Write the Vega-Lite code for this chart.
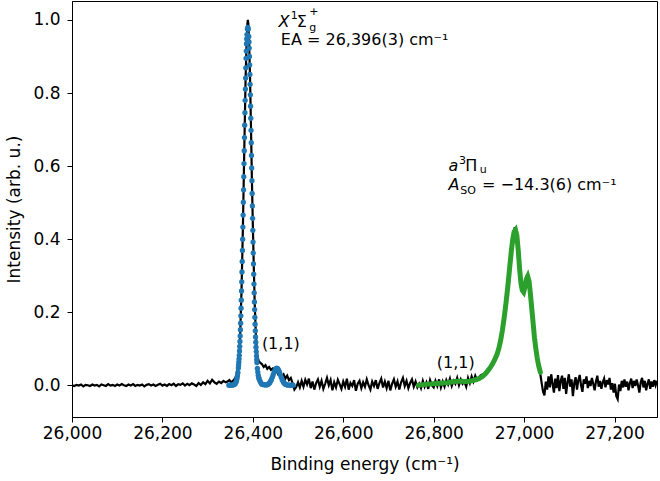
{
  "$schema": "https://vega.github.io/schema/vega-lite/v6.json",
  "width": 585,
  "height": 416,
  "autosize": "none",
  "padding": {"left": 72, "top": 1, "right": 3, "bottom": 64},
  "background": "white",
  "config": {
    "font": "DejaVu Sans",
    "view": {"stroke": "black", "strokeWidth": 1},
    "axis": {"grid": false, "domainColor": "black", "domainWidth": 1, "tickColor": "black", "tickWidth": 1, "tickSize": 5, "labelFont": "DejaVu Sans", "labelFontSize": 17, "labelColor": "black", "labelPadding": 3, "labelFlush": false, "labelOverlap": false, "titleFont": "DejaVu Sans", "titleFontSize": 17, "titleFontWeight": "normal", "titleColor": "black"},
    "text": {"font": "DejaVu Sans", "color": "black"}
  },
  "datasets": {
    "black": [
      {"x":26000,"y":0.000},{"x":26005,"y":-0.002},{"x":26010,"y":0.001},{"x":26015,"y":-0.001},{"x":26020,"y":0.002},{"x":26025,"y":-0.003},{"x":26030,"y":0.001},{"x":26035,"y":0.000},{"x":26040,"y":-0.002},{"x":26045,"y":0.002},{"x":26050,"y":-0.001},{"x":26055,"y":0.001},{"x":26060,"y":-0.003},{"x":26065,"y":0.002},{"x":26070,"y":0.000},{"x":26075,"y":-0.002},{"x":26080,"y":0.003},{"x":26085,"y":-0.001},{"x":26090,"y":0.001},{"x":26095,"y":-0.002},{"x":26100,"y":0.002},{"x":26105,"y":-0.001},{"x":26110,"y":0.003},{"x":26115,"y":0.000},{"x":26120,"y":-0.002},{"x":26125,"y":0.002},{"x":26130,"y":-0.001},{"x":26135,"y":0.003},{"x":26140,"y":-0.002},{"x":26145,"y":0.001},{"x":26150,"y":-0.001},{"x":26155,"y":0.002},{"x":26160,"y":-0.003},{"x":26165,"y":0.001},{"x":26170,"y":0.003},{"x":26175,"y":-0.001},{"x":26180,"y":0.002},{"x":26185,"y":-0.002},{"x":26190,"y":0.001},{"x":26195,"y":0.004},{"x":26200,"y":-0.001},{"x":26205,"y":0.002},{"x":26210,"y":-0.002},{"x":26215,"y":0.003},{"x":26220,"y":0.000},{"x":26225,"y":0.004},{"x":26230,"y":-0.002},{"x":26235,"y":0.003},{"x":26240,"y":0.001},{"x":26245,"y":0.005},{"x":26250,"y":-0.001},{"x":26255,"y":0.004},{"x":26260,"y":0.000},{"x":26265,"y":0.005},{"x":26270,"y":0.002},{"x":26275,"y":-0.002},{"x":26280,"y":0.006},{"x":26285,"y":0.001},{"x":26290,"y":0.008},{"x":26295,"y":0.003},{"x":26300,"y":0.012},{"x":26305,"y":0.005},{"x":26310,"y":0.015},{"x":26315,"y":0.008},{"x":26320,"y":0.004},{"x":26325,"y":0.010},{"x":26330,"y":0.006},{"x":26335,"y":0.012},{"x":26340,"y":0.008},{"x":26344,"y":0.010},{"x":26348,"y":0.014},
      {"x":26352,"y":0.008},{"x":26356,"y":0.012},{"x":26360,"y":0.018},{"x":26363,"y":0.025},{"x":26366,"y":0.04},{"x":26369,"y":0.07},{"x":26372,"y":0.14},{"x":26375,"y":0.26},{"x":26378,"y":0.43},{"x":26381,"y":0.64},{"x":26384,"y":0.84},{"x":26386,"y":0.93},{"x":26388,"y":0.99},{"x":26389,"y":1.0},{"x":26390,"y":0.99},{"x":26392,"y":0.93},{"x":26394,"y":0.83},{"x":26396,"y":0.70},{"x":26398,"y":0.56},{"x":26400,"y":0.44},{"x":26402,"y":0.33},{"x":26404,"y":0.23},{"x":26406,"y":0.16},{"x":26408,"y":0.11},{"x":26410,"y":0.08},
      {"x":26413,"y":0.066},{"x":26416,"y":0.062},{"x":26420,"y":0.058},{"x":26424,"y":0.05},{"x":26428,"y":0.055},{"x":26432,"y":0.045},{"x":26436,"y":0.05},{"x":26440,"y":0.042},{"x":26444,"y":0.046},{"x":26448,"y":0.035},{"x":26452,"y":0.04},{"x":26456,"y":0.03},{"x":26460,"y":0.034},{"x":26464,"y":0.024},{"x":26468,"y":0.03},{"x":26472,"y":0.018},{"x":26476,"y":0.026},{"x":26480,"y":0.014},{"x":26484,"y":0.02},{"x":26488,"y":0.005},{"x":26492,"y":-0.012},{"x":26496,"y":-0.005},
      {"x":26500,"y":0.008},{"x":26504,"y":-0.006},{"x":26508,"y":0.012},{"x":26512,"y":-0.004},{"x":26516,"y":0.015},{"x":26520,"y":0.002},{"x":26524,"y":0.018},{"x":26528,"y":-0.008},{"x":26532,"y":0.010},{"x":26536,"y":-0.012},{"x":26540,"y":0.006},{"x":26544,"y":0.016},{"x":26548,"y":-0.004},{"x":26552,"y":0.012},{"x":26556,"y":-0.010},{"x":26560,"y":0.004},{"x":26564,"y":0.020},{"x":26568,"y":0.000},{"x":26572,"y":0.014},{"x":26576,"y":-0.014},{"x":26580,"y":0.008},{"x":26584,"y":-0.006},{"x":26588,"y":0.015},{"x":26592,"y":0.003},{"x":26596,"y":-0.010},{"x":26600,"y":0.010},{"x":26604,"y":-0.004},{"x":26608,"y":0.018},{"x":26612,"y":-0.012},{"x":26616,"y":0.006},{"x":26620,"y":-0.002},{"x":26624,"y":0.014},{"x":26628,"y":-0.015},{"x":26632,"y":0.004},{"x":26636,"y":0.012},{"x":26640,"y":-0.008},{"x":26644,"y":0.008},{"x":26648,"y":-0.004},{"x":26652,"y":0.016},{"x":26656,"y":0.000},{"x":26660,"y":-0.012},{"x":26664,"y":0.010},{"x":26668,"y":-0.002},{"x":26672,"y":0.014},{"x":26676,"y":-0.010},{"x":26680,"y":0.006},{"x":26684,"y":0.018},{"x":26688,"y":-0.006},{"x":26692,"y":0.010},{"x":26696,"y":-0.008},{"x":26700,"y":0.012},{"x":26704,"y":-0.014},{"x":26708,"y":0.004},{"x":26712,"y":0.016},{"x":26716,"y":-0.004},{"x":26720,"y":0.010},{"x":26724,"y":-0.012},{"x":26728,"y":0.008},{"x":26732,"y":0.020},{"x":26736,"y":-0.002},{"x":26740,"y":0.012},{"x":26744,"y":-0.008},{"x":26748,"y":0.006},{"x":26752,"y":0.016},{"x":26756,"y":-0.004},{"x":26760,"y":0.010},{"x":26764,"y":-0.006},
      {"x":26768,"y":0.004},{"x":26772,"y":-0.008},{"x":26776,"y":0.012},{"x":26780,"y":-0.004},{"x":26784,"y":0.008},{"x":26788,"y":-0.010},{"x":26792,"y":0.014},{"x":26796,"y":0.000},{"x":26800,"y":-0.006},{"x":26804,"y":0.012},{"x":26808,"y":-0.002},{"x":26812,"y":0.016},{"x":26816,"y":-0.006},{"x":26820,"y":0.010},{"x":26824,"y":-0.004},{"x":26828,"y":0.014},{"x":26832,"y":0.002},{"x":26836,"y":0.018},{"x":26840,"y":-0.002},{"x":26844,"y":0.012},{"x":26848,"y":0.004},{"x":26852,"y":0.020},{"x":26856,"y":0.000},{"x":26860,"y":0.016},{"x":26864,"y":0.004},{"x":26868,"y":0.010},{"x":26872,"y":-0.004},{"x":26876,"y":0.020},{"x":26880,"y":0.006},{"x":26884,"y":0.024},{"x":26888,"y":0.010},{"x":26892,"y":0.026},{"x":26896,"y":0.014},{"x":26900,"y":0.022},{"x":26905,"y":0.028},{"x":26910,"y":0.030},{"x":26915,"y":0.036},{"x":26920,"y":0.040},{"x":26925,"y":0.048},{"x":26930,"y":0.056},{"x":26935,"y":0.068},{"x":26940,"y":0.080},
      {"x":26944,"y":0.098},{"x":26948,"y":0.12},{"x":26952,"y":0.15},{"x":26956,"y":0.185},{"x":26960,"y":0.22},{"x":26964,"y":0.265},{"x":26968,"y":0.32},{"x":26972,"y":0.37},{"x":26976,"y":0.41},{"x":26979,"y":0.43},{"x":26982,"y":0.43},{"x":26985,"y":0.39},{"x":26988,"y":0.34},{"x":26991,"y":0.30},{"x":26994,"y":0.27},{"x":26997,"y":0.255},{"x":27000,"y":0.26},{"x":27003,"y":0.285},{"x":27006,"y":0.30},{"x":27009,"y":0.30},{"x":27012,"y":0.275},{"x":27015,"y":0.235},{"x":27018,"y":0.195},{"x":27021,"y":0.155},{"x":27024,"y":0.12},{"x":27027,"y":0.09},{"x":27030,"y":0.065},{"x":27033,"y":0.045},{"x":27036,"y":0.03},{"x":27039,"y":0.005},{"x":27042,"y":-0.018},{"x":27045,"y":-0.028},
      {"x":27048,"y":0.010},{"x":27051,"y":-0.012},{"x":27054,"y":0.024},{"x":27057,"y":-0.006},{"x":27060,"y":0.030},{"x":27063,"y":0.004},{"x":27066,"y":-0.020},{"x":27069,"y":0.018},{"x":27072,"y":-0.008},{"x":27075,"y":0.028},{"x":27078,"y":-0.016},{"x":27081,"y":0.012},{"x":27084,"y":0.026},{"x":27087,"y":-0.010},{"x":27090,"y":0.020},{"x":27093,"y":-0.024},{"x":27096,"y":0.008},{"x":27099,"y":0.030},{"x":27102,"y":-0.004},{"x":27105,"y":0.016},{"x":27108,"y":-0.030},{"x":27111,"y":0.006},{"x":27114,"y":0.022},{"x":27117,"y":-0.012},{"x":27120,"y":0.014},{"x":27123,"y":0.028},{"x":27126,"y":0.000},{"x":27129,"y":-0.018},{"x":27132,"y":0.016},{"x":27135,"y":0.004},{"x":27138,"y":0.024},{"x":27141,"y":-0.008},{"x":27144,"y":0.012},{"x":27147,"y":-0.002},{"x":27150,"y":0.020},{"x":27153,"y":0.004},{"x":27156,"y":-0.014},{"x":27159,"y":0.010},{"x":27162,"y":0.026},{"x":27165,"y":-0.004},{"x":27168,"y":0.012},{"x":27171,"y":-0.010},{"x":27174,"y":0.008},{"x":27177,"y":0.018},{"x":27180,"y":-0.006},{"x":27183,"y":0.014},{"x":27186,"y":0.002},{"x":27189,"y":0.020},{"x":27192,"y":-0.012},{"x":27195,"y":0.006},{"x":27198,"y":-0.020},{"x":27201,"y":0.004},{"x":27204,"y":-0.030},{"x":27207,"y":-0.038},{"x":27210,"y":0.002},{"x":27213,"y":-0.016},{"x":27216,"y":0.012},{"x":27219,"y":-0.006},{"x":27222,"y":0.016},{"x":27225,"y":-0.004},{"x":27228,"y":0.010},{"x":27231,"y":-0.014},{"x":27234,"y":0.006},{"x":27237,"y":0.018},{"x":27240,"y":-0.008},{"x":27243,"y":0.012},{"x":27246,"y":-0.002},{"x":27249,"y":0.016},{"x":27252,"y":0.000},{"x":27255,"y":-0.020},{"x":27258,"y":0.008},{"x":27261,"y":0.020},{"x":27264,"y":-0.006},{"x":27267,"y":0.012},{"x":27270,"y":-0.014},{"x":27273,"y":0.004},{"x":27276,"y":0.016},{"x":27279,"y":-0.010},{"x":27282,"y":0.010},{"x":27285,"y":-0.004},{"x":27288,"y":0.014},{"x":27291,"y":0.000},{"x":27294,"y":0.012}
    ],
    "blue": [
      {"x":26347,"y":0.0},{"x":26350,"y":0.0},{"x":26353,"y":0.0001},{"x":26356,"y":0.0005},{"x":26359,"y":0.002},{"x":26361,"y":0.004},{"x":26363,"y":0.009},{"x":26364,"y":0.013},{"x":26365,"y":0.019},{"x":26366,"y":0.026},{"x":26367,"y":0.035},
      {"x":26368,"y":0.047},{"x":26368.5,"y":0.055},{"x":26369,"y":0.063},{"x":26369.5,"y":0.072},{"x":26370,"y":0.082},{"x":26370.5,"y":0.094},{"x":26371,"y":0.106},{"x":26371.5,"y":0.120},{"x":26372,"y":0.135},{"x":26372.5,"y":0.152},{"x":26373,"y":0.170},{"x":26373.5,"y":0.190},{"x":26374,"y":0.211},{"x":26374.5,"y":0.233},{"x":26375,"y":0.258},{"x":26375.5,"y":0.283},{"x":26376,"y":0.310},{"x":26376.5,"y":0.339},{"x":26377,"y":0.369},{"x":26377.5,"y":0.400},{"x":26378,"y":0.433},{"x":26378.5,"y":0.466},{"x":26379,"y":0.501},{"x":26379.5,"y":0.535},{"x":26380,"y":0.571},{"x":26380.5,"y":0.607},{"x":26381,"y":0.642},{"x":26381.5,"y":0.678},{"x":26382,"y":0.712},{"x":26382.5,"y":0.746},{"x":26383,"y":0.780},{"x":26383.5,"y":0.811},{"x":26384,"y":0.841},{"x":26384.5,"y":0.869},{"x":26385,"y":0.895},{"x":26385.5,"y":0.915},{"x":26386,"y":0.935},{"x":26386.5,"y":0.948},{"x":26387,"y":0.960},{"x":26388,"y":0.975},{"x":26389,"y":0.980},{"x":26390,"y":0.975},{"x":26391,"y":0.955},{"x":26391.5,"y":0.940},{"x":26392,"y":0.923},{"x":26392.5,"y":0.900},{"x":26393,"y":0.877},{"x":26393.5,"y":0.851},{"x":26394,"y":0.824},{"x":26394.5,"y":0.795},{"x":26395,"y":0.764},{"x":26395.5,"y":0.731},{"x":26396,"y":0.698},{"x":26396.5,"y":0.664},{"x":26397,"y":0.629},{"x":26397.5,"y":0.595},{"x":26398,"y":0.560},{"x":26398.5,"y":0.525},{"x":26399,"y":0.491},{"x":26399.5,"y":0.457},{"x":26400,"y":0.424},{"x":26400.5,"y":0.392},{"x":26401,"y":0.362},{"x":26401.5,"y":0.332},{"x":26402,"y":0.304},{"x":26402.5,"y":0.277},{"x":26403,"y":0.253},{"x":26403.5,"y":0.228},{"x":26404,"y":0.207},{"x":26404.5,"y":0.186},{"x":26405,"y":0.167},{"x":26405.5,"y":0.149},{"x":26406,"y":0.132},{"x":26406.5,"y":0.118},{"x":26407,"y":0.104},{"x":26407.5,"y":0.092},{"x":26408,"y":0.080},{"x":26408.5,"y":0.070},{"x":26409,"y":0.062},{"x":26410,"y":0.046},
      {"x":26411,"y":0.036},{"x":26412,"y":0.027},{"x":26413,"y":0.021},{"x":26414,"y":0.017},{"x":26416,"y":0.011},{"x":26418,"y":0.006},{"x":26420,"y":0.003},{"x":26423,"y":0.0015},{"x":26426,"y":0.001},{"x":26429,"y":0.0008},{"x":26431,"y":0.0012},{"x":26433,"y":0.002},{"x":26435,"y":0.004},{"x":26437,"y":0.0064},{"x":26439,"y":0.0102},{"x":26441,"y":0.0153},{"x":26443,"y":0.0215},{"x":26445,"y":0.0285},{"x":26447,"y":0.0355},{"x":26449,"y":0.0415},{"x":26451,"y":0.0455},{"x":26453,"y":0.047},{"x":26455,"y":0.0455},{"x":26457,"y":0.0415},{"x":26459,"y":0.0355},{"x":26461,"y":0.0285},{"x":26463,"y":0.0215},{"x":26465,"y":0.0153},{"x":26467,"y":0.0102},{"x":26469,"y":0.0064},{"x":26471,"y":0.0037},{"x":26473,"y":0.0021},{"x":26475,"y":0.001},{"x":26477,"y":0.0005},{"x":26480,"y":0.0001},{"x":26483,"y":0.0},{"x":26486,"y":0.0},{"x":26489,"y":0.0}
    ],
    "green": [
      {"x":26766,"y":0.000},{"x":26773,"y":0.001},{"x":26780,"y":0.002},{"x":26790,"y":0.003},{"x":26800,"y":0.004},{"x":26810,"y":0.005},{"x":26820,"y":0.006},{"x":26830,"y":0.007},{"x":26840,"y":0.009},{"x":26850,"y":0.011},{"x":26860,"y":0.011},{"x":26870,"y":0.010},{"x":26880,"y":0.011},{"x":26890,"y":0.014},{"x":26900,"y":0.018},{"x":26908,"y":0.024},{"x":26915,"y":0.032},{"x":26920,"y":0.040},{"x":26925,"y":0.048},{"x":26930,"y":0.058},{"x":26935,"y":0.070},{"x":26940,"y":0.084},{"x":26944,"y":0.100},{"x":26948,"y":0.122},{"x":26952,"y":0.150},{"x":26956,"y":0.185},{"x":26960,"y":0.225},{"x":26964,"y":0.27},{"x":26968,"y":0.32},{"x":26972,"y":0.37},{"x":26975,"y":0.40},{"x":26978,"y":0.42},{"x":26981,"y":0.425},{"x":26984,"y":0.41},{"x":26987,"y":0.37},{"x":26990,"y":0.32},{"x":26993,"y":0.28},{"x":26996,"y":0.26},{"x":26999,"y":0.255},{"x":27002,"y":0.27},{"x":27005,"y":0.29},{"x":27008,"y":0.298},{"x":27011,"y":0.285},{"x":27014,"y":0.25},{"x":27017,"y":0.21},{"x":27020,"y":0.17},{"x":27023,"y":0.13},{"x":27026,"y":0.10},{"x":27029,"y":0.075},{"x":27032,"y":0.055},{"x":27036,"y":0.035}
    ],
    "italic": [
      {"x":26457,"y":0.981,"text":"X"},
      {"x":26833,"y":0.587,"text":"a"},
      {"x":26833,"y":0.535,"text":"A"}
    ],
    "normal": [
      {"x":26497,"y":0.981,"text":"Σ"},
      {"x":26462,"y":0.932,"text":"EA = 26,396(3) cm⁻¹"},
      {"x":26870,"y":0.587,"text":"Π"},
      {"x":26907,"y":0.535,"text":"= −14.3(6) cm⁻¹"},
      {"x":26420,"y":0.100,"text":"(1,1)"},
      {"x":26807,"y":0.048,"text":"(1,1)"}
    ],
    "small": [
      {"x":26484,"y":1.003,"text":"1"},
      {"x":26525,"y":0.969,"text":"g"},
      {"x":26525,"y":1.015,"text":"+"},
      {"x":26856,"y":0.606,"text":"3"},
      {"x":26902,"y":0.58,"text":"u"},
      {"x":26859,"y":0.524,"text":"SO"}
    ]
  },
  "encoding": {
    "x": {"field": "x", "type": "quantitative", "scale": {"domain": [26000, 27294], "nice": false, "zero": false}, "axis": {"values": [26000, 26200, 26400, 26600, 26800, 27000, 27200], "format": ",d", "title": "Binding energy (cm⁻¹)", "titlePadding": 15}},
    "y": {"field": "y", "type": "quantitative", "scale": {"domain": [-0.087, 1.052], "nice": false, "zero": false}, "axis": {"values": [0, 0.2, 0.4, 0.6, 0.8, 1.0], "format": ".1f", "title": "Intensity (arb. u.)", "titlePadding": 9, "labelPadding": 7}}
  },
  "layer": [
    {"data": {"name": "black"}, "mark": {"type": "line", "color": "black", "strokeWidth": 2.2, "clip": true}},
    {"data": {"name": "blue"}, "mark": {"type": "circle", "color": "#1f77b4", "size": 28, "opacity": 1}},
    {"data": {"name": "green"}, "mark": {"type": "line", "color": "#2ca02c", "strokeWidth": 5, "strokeCap": "round"}},
    {"data": {"name": "italic"}, "mark": {"type": "text", "align": "left", "baseline": "alphabetic", "fontSize": 16, "fontStyle": "italic"}, "encoding": {"text": {"field": "text"}}},
    {"data": {"name": "normal"}, "mark": {"type": "text", "align": "left", "baseline": "alphabetic", "fontSize": 16}, "encoding": {"text": {"field": "text"}}},
    {"data": {"name": "small"}, "mark": {"type": "text", "align": "left", "baseline": "alphabetic", "fontSize": 11}, "encoding": {"text": {"field": "text"}}}
  ]
}
